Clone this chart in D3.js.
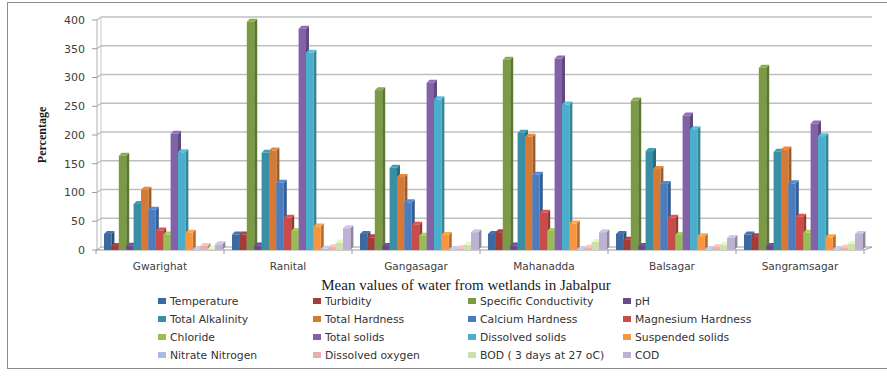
<!DOCTYPE html>
<html>
<head>
<meta charset="utf-8">
<script src="https://cdn.jsdelivr.net/npm/d3@7/dist/d3.min.js"></script>
<style>
  html, body { margin: 0; padding: 0; background: #fff; }
  svg { display: block; }
</style>
</head>
<body>
<svg id="chart" width="887" height="379"></svg>
<script>
// Wetland sites (x categories)
const sites = ["Gwarighat", "Ranital", "Gangasagar", "Mahanadda", "Balsagar", "Sangramsagar"];

// Parameters (series), in drawing / legend order
const parameters = [
  "Temperature", "Turbidity", "Specific Conductivity", "pH",
  "Total Alkalinity", "Total Hardness", "Calcium Hardness", "Magnesium Hardness",
  "Chloride", "Total solids", "Dissolved solids", "Suspended solids",
  "Nitrate Nitrogen", "Dissolved oxygen", "BOD ( 3 days at 27 oC)", "COD"
];

// Mean values per parameter, one entry per site
const temperature        = [28, 27, 28, 28, 28, 27];
const turbidity          = [7, 27, 22, 31, 18, 24];
const specificCond       = [164, 397, 278, 331, 260, 317];
const pH                 = [7.5, 8, 7, 8, 7, 7];
const totalAlkalinity    = [80, 169, 143, 204, 172, 171];
const totalHardness      = [105, 173, 127, 197, 141, 175];
const calciumHardness    = [70, 117, 83, 131, 115, 116];
const magnesiumHardness  = [34, 56, 44, 65, 56, 58];
const chloride           = [27, 33, 25, 33, 26, 30];
const totalSolids        = [202, 385, 291, 333, 234, 220];
const dissolvedSolids    = [170, 343, 262, 253, 210, 198];
const suspendedSolids    = [30, 41, 26, 46, 24, 22];
const nitrateNitrogen    = [1, 2, 1, 1, 1, 1];
const dissolvedOxygen    = [7, 5, 3, 4, 5, 4];
const bod                = [2, 13, 9, 14, 9, 11];
const cod                = [10, 38, 31, 31, 21, 28];

const seriesValues = [
  temperature, turbidity, specificCond, pH,
  totalAlkalinity, totalHardness, calciumHardness, magnesiumHardness,
  chloride, totalSolids, dissolvedSolids, suspendedSolids,
  nitrateNitrogen, dissolvedOxygen, bod, cod
];

// Y axis ticks
const yTicks = [0, 50, 100, 150, 200, 250, 300, 350, 400];

const colors = [
  "#3d69a3", "#a23b39", "#7b9b43", "#664a8a",
  "#3a8ea3", "#d47a35", "#4a7dc0", "#c84d4a",
  "#97be51", "#8063a6", "#4bafcb", "#f8953f",
  "#a9bde0", "#e6aeac", "#cde0ad", "#bdb1d5"
];

const svg = d3.select("#chart");

// Outer chart frame
svg.append("rect")
  .attr("x", 7.5).attr("y", 2.5)
  .attr("width", 890).attr("height", 366)
  .attr("fill", "none").attr("stroke", "#8c8c8c").attr("stroke-width", 1);

// 3D depth offset of the back wall
const depthX = 4, depthY = -3;

const x0 = d3.scaleBand().domain(sites).range([96, 864]).padding(0);
const x1 = d3.scaleBand().domain(parameters).range([8, 126.4]).padding(0);
const y = d3.scaleLinear().domain([0, 400]).range([250, 20]);

const grid = svg.append("g");

// Back-wall gridlines with short diagonal joins to the front axis
yTicks.forEach(t => {
  const yy = y(t);
  grid.append("line")
    .attr("x1", 97 + depthX).attr("x2", 872)
    .attr("y1", yy + depthY).attr("y2", yy + depthY)
    .attr("stroke", "#bfbfbf").attr("stroke-width", 1.4);
  grid.append("line")
    .attr("x1", 97).attr("x2", 97 + depthX)
    .attr("y1", yy).attr("y2", yy + depthY)
    .attr("stroke", "#9a9a9a").attr("stroke-width", 1);
  grid.append("line")
    .attr("x1", 92).attr("x2", 97)
    .attr("y1", yy).attr("y2", yy)
    .attr("stroke", "#9a9a9a").attr("stroke-width", 1);
});

// Back wall left edge and front axis line
grid.append("line")
  .attr("x1", 97 + depthX).attr("x2", 97 + depthX)
  .attr("y1", y(0) + depthY).attr("y2", y(400) + depthY)
  .attr("stroke", "#c8c8c8").attr("stroke-width", 1);
grid.append("line")
  .attr("x1", 97).attr("x2", 97)
  .attr("y1", y(0)).attr("y2", y(400))
  .attr("stroke", "#b0b0b0").attr("stroke-width", 1);

// Floor front edge, right edge and category ticks
grid.append("line")
  .attr("x1", 96).attr("x2", 864)
  .attr("y1", y(0)).attr("y2", y(0))
  .attr("stroke", "#9a9a9a").attr("stroke-width", 1);
grid.append("line")
  .attr("x1", 864).attr("x2", 872)
  .attr("y1", y(0)).attr("y2", y(0) + depthY)
  .attr("stroke", "#9a9a9a").attr("stroke-width", 1);
sites.concat(["_end"]).forEach((s, i) => {
  const xx = 96 + i * x0.bandwidth();
  grid.append("line")
    .attr("x1", xx).attr("x2", xx)
    .attr("y1", y(0)).attr("y2", y(0) + 4)
    .attr("stroke", "#9a9a9a").attr("stroke-width", 1);
});

// Y tick labels
svg.append("g").selectAll("text")
  .data(yTicks).join("text")
  .attr("x", 85).attr("y", d => y(d))
  .attr("dy", "0.35em")
  .attr("text-anchor", "end")
  .attr("font-family", "DejaVu Sans")
  .attr("font-size", 11)
  .attr("fill", "#404040")
  .text(d => d);

// Category labels
svg.append("g").selectAll("text")
  .data(sites).join("text")
  .attr("x", d => x0(d) + x0.bandwidth() / 2)
  .attr("y", 270)
  .attr("text-anchor", "middle")
  .attr("font-family", "DejaVu Sans")
  .attr("font-size", 10.5)
  .attr("fill", "#404040")
  .text(d => d);

// 3D columns
const bars = svg.append("g");
const shade = (c, k) => d3.color(c).darker(k).formatHex();
const lift = (c, k) => d3.color(c).brighter(k).formatHex();

sites.forEach((site, si) => {
  parameters.forEach((p, pi) => {
    const v = seriesValues[pi][si];
    const c = colors[pi];
    const bx = x0(site) + x1(p);
    const w = x1.bandwidth();
    const yt = y(v), yb = y(0);
    // side face
    bars.append("path")
      .attr("d", `M${bx + w},${yt} L${bx + w + depthX - 1},${yt + depthY} L${bx + w + depthX - 1},${yb + depthY} L${bx + w},${yb} Z`)
      .attr("fill", shade(c, 0.8));
    // front face
    bars.append("rect")
      .attr("x", bx).attr("y", yt)
      .attr("width", w).attr("height", yb - yt)
      .attr("fill", c);
    // top face
    bars.append("path")
      .attr("d", `M${bx},${yt} L${bx + depthX - 1},${yt + depthY} L${bx + w + depthX - 1},${yt + depthY} L${bx + w},${yt} Z`)
      .attr("fill", lift(c, 0.3));
  });
});

// Axis titles
svg.append("text")
  .attr("x", 466).attr("y", 290)
  .attr("text-anchor", "middle")
  .attr("font-family", "Liberation Serif")
  .attr("font-size", 15)
  .attr("fill", "#1a1a1a")
  .text("Mean values of water from wetlands in Jabalpur");

svg.append("text")
  .attr("transform", "translate(46,135) rotate(-90)")
  .attr("text-anchor", "middle")
  .attr("font-family", "Liberation Serif")
  .attr("font-weight", "bold")
  .attr("font-size", 12)
  .attr("fill", "#1a1a1a")
  .text("Percentage");

// Legend: 4 columns x 4 rows
const legendCols = [158, 313, 468, 623];
const legendRows = [301, 319, 337, 355];
const legend = svg.append("g");
parameters.forEach((p, i) => {
  const cx = legendCols[i % 4], cy = legendRows[Math.floor(i / 4)];
  legend.append("rect")
    .attr("x", cx).attr("y", cy - 3)
    .attr("width", 8).attr("height", 6)
    .attr("fill", colors[i]);
  legend.append("text")
    .attr("x", cx + 12).attr("y", cy)
    .attr("dy", "0.35em")
    .attr("font-family", "DejaVu Sans")
    .attr("font-size", 10.8)
    .attr("fill", "#333")
    .text(p);
});
</script>
</body>
</html>
